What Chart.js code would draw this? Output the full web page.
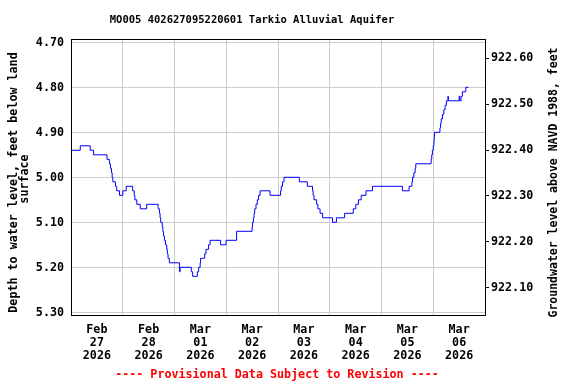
<!DOCTYPE html>
<html><head><meta charset="utf-8">
<script src="https://cdn.jsdelivr.net/npm/chart.js@4.4.1/dist/chart.umd.min.js"></script>
<style>html,body{margin:0;padding:0;background:#fff;}</style>
</head><body>
<canvas id="c" width="576" height="384"></canvas>
<script>
const chartTitle = "MO005 402627095220601 Tarkio Alluvial Aquifer";
const leftAxisTitle = ["Depth to water level, feet below land", "surface"];
const rightAxisTitle = "Groundwater level above NAVD 1988, feet";
const footerText = "---- Provisional Data Subject to Revision ----";

// hours since Feb 27 2026 00:00
const hours = [0,4.3,8.9,10.4,16.7,17.8,18.3,18.8,19.1,19.4,20.6,21.2,22.5,24.0,25.6,28.6,29.3,29.6,30.5,32.1,35.1,40.4,41.0,41.3,41.6,42.3,42.6,42.9,43.3,43.8,44.4,44.7,45.0,45.6,50.3,50.6,55.8,56.4,58.6,59.2,59.9,60.1,62.0,62.6,63.8,64.5,69.4,71.9,76.8,84.0,84.2,84.6,84.9,85.2,85.8,86.4,87.0,87.7,92.3,97.2,97.5,98.1,98.8,105.9,109.6,112.0,112.3,112.7,113.9,114.5,115.5,116.7,121.3,123.1,126.9,130.9,132.1,133.3,134.6,136.8,139.8,153.7,156.8,158.1,158.4,159.0,159.6,159.9,167.0,167.3,167.6,168.0,168.3,168.45,168.6,171.1,171.4,171.7,172.3,172.9,173.5,174.1,174.8,175.0,180.0,180.3,180.9,181.5,183.1,184.3];
const depthFt = [4.94,4.93,4.94,4.95,4.96,4.97,4.98,4.99,5.00,5.01,5.02,5.03,5.04,5.03,5.02,5.03,5.04,5.05,5.06,5.07,5.06,5.07,5.08,5.09,5.10,5.11,5.12,5.13,5.14,5.15,5.16,5.17,5.18,5.19,5.21,5.20,5.21,5.22,5.21,5.20,5.19,5.18,5.17,5.16,5.15,5.14,5.15,5.14,5.12,5.11,5.10,5.09,5.08,5.07,5.06,5.05,5.04,5.03,5.04,5.03,5.02,5.01,5.00,5.01,5.02,5.03,5.04,5.05,5.06,5.07,5.08,5.09,5.10,5.09,5.08,5.07,5.06,5.05,5.04,5.03,5.02,5.03,5.02,5.01,5.00,4.99,4.98,4.97,4.96,4.95,4.94,4.93,4.92,4.91,4.90,4.89,4.88,4.87,4.86,4.85,4.84,4.83,4.82,4.83,4.82,4.83,4.82,4.81,4.80,4.80];

const xTickLabels = [["Feb","27","2026"],["Feb","28","2026"],["Mar","01","2026"],["Mar","02","2026"],["Mar","03","2026"],["Mar","04","2026"],["Mar","05","2026"],["Mar","06","2026"]];
const depthTicks = [4.70,4.80,4.90,5.00,5.10,5.20,5.30];
const elevTicks = [922.10,922.20,922.30,922.40,922.50,922.60];

const FONT = '"DejaVu Sans Mono", monospace';
const tickFont = {family: FONT, size: 11.7, weight: 'bold', lineHeight: '13px'};

const points = hours.map((h, i) => ({x: h, y: depthFt[i]}));

const textPlugin = {
  id: 'frameText',
  afterDraw(chart) {
    const ctx = chart.ctx, a = chart.chartArea;
    ctx.save();
    ctx.strokeStyle = '#000';
    ctx.lineWidth = 1;
    ctx.strokeRect(Math.round(a.left) + 0.5, Math.round(a.top) + 0.5, Math.round(a.right - a.left), Math.round(a.bottom - a.top));
    ctx.fillStyle = '#000';
    ctx.textAlign = 'center';
    ctx.textBaseline = 'middle';
    ctx.font = 'bold 10.5px ' + FONT;
    ctx.fillText(chartTitle, 252, 20.5);
    ctx.font = 'bold 11.7px ' + FONT;
    ctx.save(); ctx.translate(13.5, 182.5); ctx.rotate(-Math.PI / 2); ctx.fillText(leftAxisTitle[0], 0, 0); ctx.restore();
    ctx.save(); ctx.translate(25, 179); ctx.rotate(-Math.PI / 2); ctx.fillText(leftAxisTitle[1], 0, 0); ctx.restore();
    ctx.font = 'bold 11.5px ' + FONT;
    ctx.save(); ctx.translate(554.5, 182.5); ctx.rotate(-Math.PI / 2); ctx.fillText(rightAxisTitle, 0, 0); ctx.restore();
    ctx.font = 'bold 11.7px ' + FONT;
    ctx.fillStyle = '#ff0000';
    ctx.fillText(footerText, 277, 375);
    ctx.restore();
  }
};

new Chart(document.getElementById('c'), {
  type: 'line',
  data: {
    datasets: [{
      data: points,
      borderColor: '#0000ff',
      borderWidth: 1,
      pointRadius: 0,
      stepped: 'before',
      fill: false,
      xAxisID: 'x',
      yAxisID: 'y'
    }]
  },
  options: {
    responsive: false,
    animation: false,
    layout: {padding: {top: 39, left: 0, right: 0, bottom: 0}},
    plugins: {legend: {display: false}, tooltip: {enabled: false}, title: {display: false}},
    scales: {
      x: {
        type: 'linear', position: 'bottom', min: 0, max: 192,
        afterBuildTicks: s => { const t = []; for (let v = 0; v <= 192; v += 12) t.push({value: v}); s.ticks = t; },
        afterFit: s => { s.height = 69; },
        ticks: {
          autoSkip: false, maxRotation: 0, minRotation: 0, padding: 8, color: '#000', font: tickFont,
          callback: v => (v % 24 === 12) ? xTickLabels[(v - 12) / 24] : ''
        },
        grid: {
          color: c => (c.tick && c.tick.value % 24 === 0) ? '#cccccc' : 'rgba(0,0,0,0)',
          drawTicks: false, lineWidth: 1
        },
        border: {display: false}
      },
      y: {
        type: 'linear', position: 'left', reverse: true, min: 4.69267, max: 5.306,
        afterBuildTicks: s => { s.ticks = depthTicks.map(v => ({value: v})); },
        afterFit: s => { s.width = 71; },
        ticks: {padding: 7, color: '#000', font: tickFont, labelOffset: 1, callback: v => Number(v).toFixed(2)},
        grid: {color: '#cccccc', drawTicks: false, lineWidth: 1},
        border: {display: false}
      },
      y2: {
        type: 'linear', position: 'right', min: 922.0407, max: 922.642,
        afterBuildTicks: s => { s.ticks = elevTicks.map(v => ({value: v})); },
        afterFit: s => { s.width = 91; },
        ticks: {padding: 2, color: '#000', font: tickFont, callback: v => Number(v).toFixed(2)},
        grid: {drawOnChartArea: false, drawTicks: true, tickLength: 4, tickColor: '#000', color: '#000'},
        border: {display: false}
      }
    }
  },
  plugins: [textPlugin]
});
</script>
</body></html>
